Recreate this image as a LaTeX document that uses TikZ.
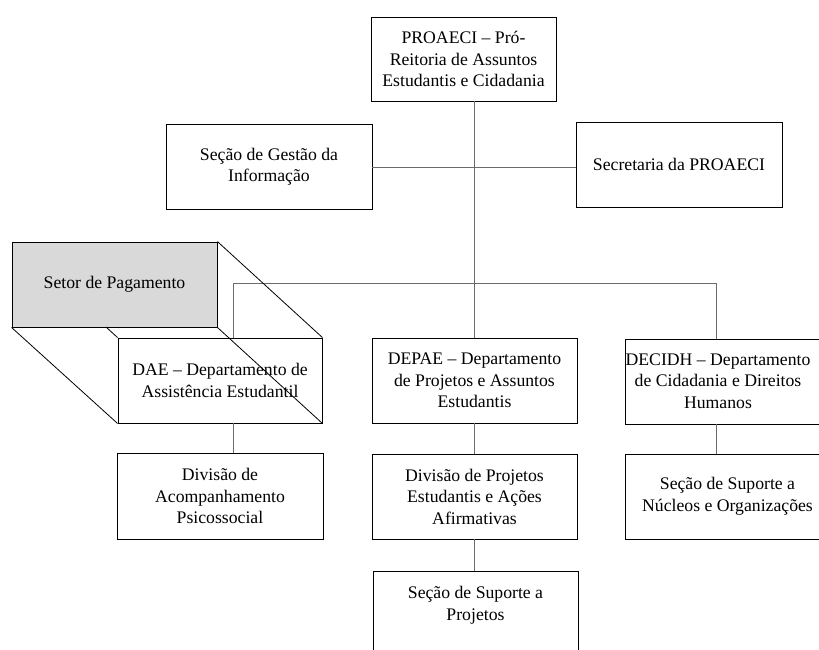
\documentclass[tikz,border=0pt]{standalone}
\usepackage{fontspec}
\setmainfont{Liberation Serif}
\begin{document}
\begin{tikzpicture}[x=1pt,y=-1pt,
  box/.style={draw=black,line width=0.9pt,fill=white,inner sep=0pt,align=center,
    font=\fontsize{17.7}{21.5}\selectfont},
  txt/.style={inner sep=0pt,align=center,font=\fontsize{17.7}{21.5}\selectfont},
  conn/.style={draw=black!58,line width=0.9pt},
  edge3d/.style={draw=black,line width=0.8pt}]
\useasboundingbox (0,0) rectangle (819,649);
\clip (0,0) rectangle (819,649);
% connector junctions
\coordinate (jL) at (233,283);
\coordinate (jR) at (716,283);
\coordinate (jT) at (475,167);
% boxes
\node[box,minimum width=185,minimum height=84] (proaeci) at (463.5,59) {PROAECI -- Pró-\\Reitoria de Assuntos\\Estudantis e Cidadania};
\node[box,minimum width=206,minimum height=85] (gestao) at (269,166.5) {Seção de Gestão da\\Informação};
\node[box,minimum width=206,minimum height=85] (secret) at (679,164.5) {Secretaria da PROAECI};
\node[box,fill=black!15,minimum width=205,minimum height=85] (setor) at (114.5,284.5) {Setor de Pagamento};
\node[box,minimum width=204,minimum height=85] (dae) at (220,380.5) {DAE -- Departamento de\\Assistência Estudantil};
\node[box,minimum width=205,minimum height=85] (depae) at (474.5,380.5) {DEPAE -- Departamento\\de Projetos e Assuntos\\Estudantis};
\node[box,minimum width=205,minimum height=85] (decidh) at (727.5,381.5) {};
\node[txt] (decidhT) at (718,381) {DECIDH -- Departamento\\de Cidadania e Direitos\\Humanos};
\node[box,minimum width=206,minimum height=86] (acomp) at (220,496) {Divisão de\\Acompanhamento\\Psicossocial};
\node[box,minimum width=205,minimum height=85] (divproj) at (474.5,496.5) {Divisão de Projetos\\Estudantis e Ações\\Afirmativas};
\node[box,minimum width=205,minimum height=85] (nucleos) at (727.5,496.5) {Seção de Suporte a\\Núcleos e Organizações};
\node[box,minimum width=205,minimum height=85] (secproj) at (475.5,613.5) {};
\node[txt] (secprojT) at (475.5,605) {Seção de Suporte a\\Projetos};
% connectors
\draw[conn] (depae.north |- proaeci.south) -- (depae.north);
\draw[conn] (gestao.east |- jT) -- (secret.west |- jT);
\draw[conn] (jL) -- (jR);
\draw[conn] (jL) -- (jL |- dae.north);
\draw[conn] (jR) -- (jR |- decidh.north);
\draw[conn] (jL |- dae.south) -- (jL |- acomp.north);
\draw[conn] (depae.south) -- (divproj.north);
\draw[conn] (divproj.south) -- (divproj.south |- secproj.north);
\draw[conn] (jR |- decidh.south) -- (jR |- nucleos.north);
% 3D extrusion edges
\coordinate (sb) at (106,327);
\draw[edge3d] (setor.north east) -- (dae.north east);
\draw[edge3d] (setor.south west) -- (dae.south west);
\draw[edge3d] (setor.south east) -- (dae.south east);
\draw[edge3d] (sb) -- (dae.north west);
\end{tikzpicture}
\end{document}
